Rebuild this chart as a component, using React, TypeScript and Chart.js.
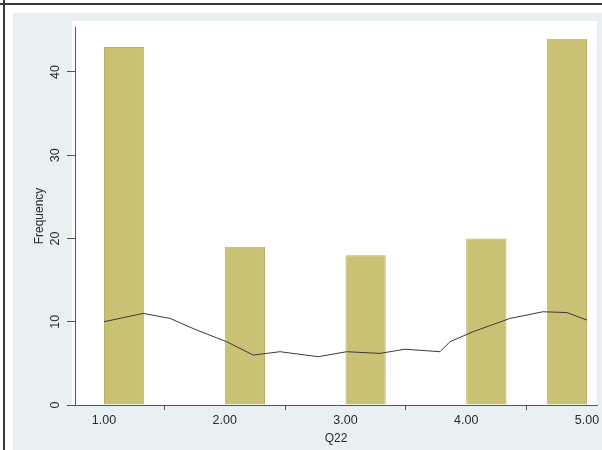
import React, { useEffect, useRef } from "react";
import { Chart, registerables } from "chart.js";

Chart.register(...registerables);

// ---- data ----
const q22Values = [1, 2, 3, 4, 5];
const frequencies = [43, 19, 18, 20, 44];
const xTickValues = [1, 2, 3, 4, 5];
const yTickValues = [0, 10, 20, 30, 40];
const curveX = [1.0, 1.325, 1.547, 1.768, 2.016, 2.236, 2.458, 2.775, 3.01, 3.286, 3.493, 3.783, 3.865, 4.056, 4.362, 4.636, 4.834, 5.0];
const curveY = [10.0, 11.0, 10.4, 9.0, 7.6, 6.0, 6.4, 5.8, 6.4, 6.2, 6.7, 6.4, 7.6, 8.8, 10.4, 11.2, 11.1, 10.2];
const binCount = 12;
const rangeMin = 1;
const rangeMax = 5;

const FONT = '"Liberation Sans", Arial, sans-serif';
const TEXT = "#2a2a2a";
const AXIS = "#555555";

function binCenter(v: number): number {
  const w = (rangeMax - rangeMin) / binCount;
  const idx = Math.min(Math.floor((v - rangeMin) / w + 1e-9), binCount - 1);
  return rangeMin + (idx + 0.5) * w;
}

const labelPlugin = {
  id: "stataLabels",
  beforeDraw(chart: any) {
    const { ctx, chartArea } = chart;
    ctx.save();
    ctx.fillStyle = "#ffffff";
    ctx.fillRect(chartArea.left - 3, chartArea.top - 6, chartArea.right - chartArea.left + 3, chartArea.bottom - chartArea.top + 6);
    ctx.restore();
  },
  afterDraw(chart: any) {
    const { ctx } = chart;
    const xs = chart.scales.x;
    const ys = chart.scales.y;
    ctx.save();
    ctx.fillStyle = TEXT;
    ctx.font = `12.5px ${FONT}`;
    ctx.textAlign = "center";
    ctx.textBaseline = "middle";
    ys.ticks.forEach((t: any) => {
      const py = ys.getPixelForValue(t.value);
      ctx.save();
      ctx.translate(56, py);
      ctx.rotate(-Math.PI / 2);
      ctx.fillText(String(t.value), 0, 0);
      ctx.restore();
    });
    xs.ticks.forEach((t: any) => {
      const px = xs.getPixelForValue(t.value);
      ctx.fillText(Number(t.value).toFixed(2), px, 421);
    });
    ctx.restore();
  },
};

export default function App() {
  const ref = useRef<HTMLCanvasElement | null>(null);

  useEffect(() => {
    if (!ref.current) return;
    const barData = q22Values.map((v, i) => ({ x: binCenter(v), y: frequencies[i] }));
    const lineData = curveX.map((x, i) => ({ x, y: curveY[i] }));
    const chart = new Chart(ref.current, {
      type: "bar",
      data: {
        datasets: [
          {
            type: "line",
            data: lineData,
            borderColor: "#3a3a3a",
            borderWidth: 1,
            pointRadius: 0,
            tension: 0,
            fill: false,
            order: 0,
          } as any,
          {
            type: "bar",
            data: barData,
            backgroundColor: "#c9c174",
            borderColor: "#b9af62",
            borderWidth: 1,
            barPercentage: 0.5,
            categoryPercentage: 1,
            order: 1,
          } as any,
        ],
      },
      options: {
        animation: false,
        responsive: false,
        maintainAspectRatio: false,
        layout: { padding: { left: 0, top: 27, right: 5, bottom: 0 } },
        plugins: { legend: { display: false }, tooltip: { enabled: false } },
        scales: {
          x: {
            type: "linear",
            min: 0.76,
            max: 5.083,
            offset: false,
            afterBuildTicks: (s: any) => {
              s.ticks = xTickValues.map((v) => ({ value: v }));
            },
            afterFit: (s: any) => {
              s.height = 45;
            },
            ticks: { display: false },
            grid: { display: true, drawOnChartArea: false, drawTicks: true, tickLength: 5, color: AXIS },
            border: { display: true, color: AXIS, width: 1 },
            title: { display: true, text: "Q22", color: TEXT, font: { family: FONT, size: 12 }, padding: { top: 0, bottom: 4 } },
          },
          y: {
            type: "linear",
            min: 0,
            max: 45.4,
            afterBuildTicks: (s: any) => {
              s.ticks = yTickValues.map((v) => ({ value: v }));
            },
            afterFit: (s: any) => {
              s.width = 75;
            },
            ticks: { display: false },
            grid: { display: true, drawOnChartArea: false, drawTicks: true, tickLength: 8, color: AXIS },
            border: { display: true, color: AXIS, width: 1 },
            title: { display: true, text: "Frequency", color: TEXT, font: { family: FONT, size: 12 }, padding: { top: 32, bottom: 0 } },
          },
        },
      },
      plugins: [labelPlugin],
    });
    return () => chart.destroy();
  }, []);

  return (
    <div style={{ position: "fixed", left: 0, top: 0, width: 602, height: 450, background: "#ffffff", overflow: "hidden" }}>
      <div style={{ position: "absolute", left: 13, top: 13, right: 0, bottom: 0, background: "#e9f0f1" }} />
      <div style={{ position: "absolute", left: 0, top: 3, width: 602, height: 2, background: "#3a3a3a" }} />
      <div style={{ position: "absolute", left: 3, top: 0, width: 2, height: 450, background: "#3a3a3a" }} />
      <canvas ref={ref} width={602} height={450} style={{ position: "absolute", left: 0, top: 0, width: 602, height: 450 }} />
    </div>
  );
}
